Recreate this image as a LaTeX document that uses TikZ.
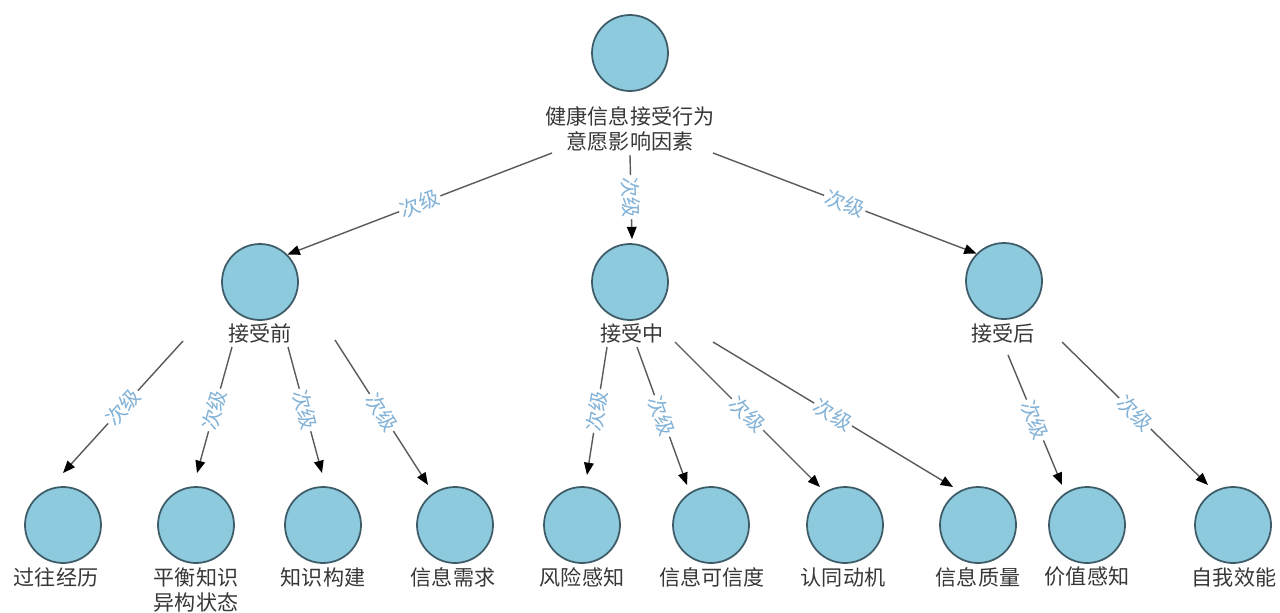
\documentclass[tikz,border=0pt]{standalone}
\usepackage{fontspec}
\newfontfamily\cjk{Noto Sans CJK SC}
\usetikzlibrary{arrows.meta}
\definecolor{cfill}{RGB}{141,202,222}
\definecolor{cdraw}{RGB}{62,92,104}
\definecolor{ctext}{RGB}{55,55,55}
\definecolor{cedge}{RGB}{90,90,90}
\definecolor{clbl}{RGB}{130,178,215}
\begin{document}
\begin{tikzpicture}[x=0.02cm,y=-0.02cm,
  font=\cjk\fontsize{12}{14.7}\selectfont,
  circ/.style={circle,draw=cdraw,fill=cfill,line width=1pt,minimum size=1.52cm,inner sep=0pt},
  txt/.style={text=ctext,align=center,inner sep=1pt},
  edge/.style={draw=cedge,line width=0.8pt,-{Triangle[length=7pt,width=5.5pt,color=black]}},
  lbl/.style={sloped,pos=0.5,fill=white,text=clbl,inner sep=1pt,font=\cjk\fontsize{11.5}{13}\selectfont}]
\useasboundingbox (0,0) rectangle (1280,612);
% top level
\node[circ] (root) at (630,53) {};
\node[txt] (lroot) at (630,129) {健康信息接受行为\\意愿影响因素};
% second level
\node[circ] (pre) at (260,282) {};
\node[txt] (lpre) at (260,333) {接受前};
\node[circ] (mid) at (630,282) {};
\node[txt] (lmid) at (632,333) {接受中};
\node[circ] (post) at (1004,281) {};
\node[txt] (lpost) at (1003,333) {接受后};
% leaves
\node[circ] (c1) at (63,525) {};
\node[txt] (l1) at (56,577) {过往经历};
\node[circ] (c2) at (196,525) {};
\node[txt] (l2) at (196,590) {平衡知识\\异构状态};
\node[circ] (c3) at (323,525) {};
\node[txt] (l3) at (323,577) {知识构建};
\node[circ] (c4) at (455,525) {};
\node[txt] (l4) at (453,577) {信息需求};
\node[circ] (c5) at (582,525) {};
\node[txt] (l5) at (582,577) {风险感知};
\node[circ] (c6) at (711,525) {};
\node[txt] (l6) at (712,577) {信息可信度};
\node[circ] (c7) at (845,525) {};
\node[txt] (l7) at (843,577) {认同动机};
\node[circ] (c8) at (978,525) {};
\node[txt] (l8) at (978,577) {信息质量};
\node[circ] (c9) at (1087,525) {};
\node[txt] (l9) at (1087,577) {价值感知};
\node[circ] (c10) at (1233,525) {};
\node[txt] (l10) at (1234,577) {自我效能};
% edges from root
\draw[edge] ([shift={(-78,24)}]lroot.center) -- node[lbl]{次级} (pre.45);
\draw[edge] ([shift={(0,26)}]lroot.center) -- node[lbl]{次级} ([shift={(2,-4)}]mid.north);
\draw[edge] ([shift={(83,24)}]lroot.center) -- node[lbl]{次级} (post.135);
% edges from pre
\draw[edge] ([shift={(-77,8)}]lpre.center) -- node[lbl]{次级} ([shift={(0,-52)}]c1.center);
\draw[edge] ([shift={(-28,14)}]lpre.center) -- node[lbl]{次级} ([shift={(1,-52)}]c2.center);
\draw[edge] ([shift={(28,14)}]lpre.center) -- node[lbl]{次级} ([shift={(-1,-52)}]c3.center);
\draw[edge] ([shift={(75,7)}]lpre.center) -- node[lbl]{次级} ([shift={(-27,-40)}]c4.center);
% edges from mid
\draw[edge] ([shift={(-25,14)}]lmid.center) -- node[lbl]{次级} ([shift={(5,-50)}]c5.center);
\draw[edge] ([shift={(5,14)}]lmid.center) -- node[lbl]{次级} ([shift={(-24,-40)}]c6.center);
\draw[edge] ([shift={(43,9)}]lmid.center) -- node[lbl]{次级} ([shift={(-25,-38)}]c7.center);
\draw[edge] ([shift={(81,9)}]lmid.center) -- node[lbl]{次级} ([shift={(-25,-38)}]c8.center);
% edges from post
\draw[edge] ([shift={(5,22)}]lpost.center) -- node[lbl]{次级} ([shift={(-25,-40)}]c9.center);
\draw[edge] ([shift={(59,9)}]lpost.center) -- node[lbl]{次级} ([shift={(-25,-40)}]c10.center);
\end{tikzpicture}
\end{document}
